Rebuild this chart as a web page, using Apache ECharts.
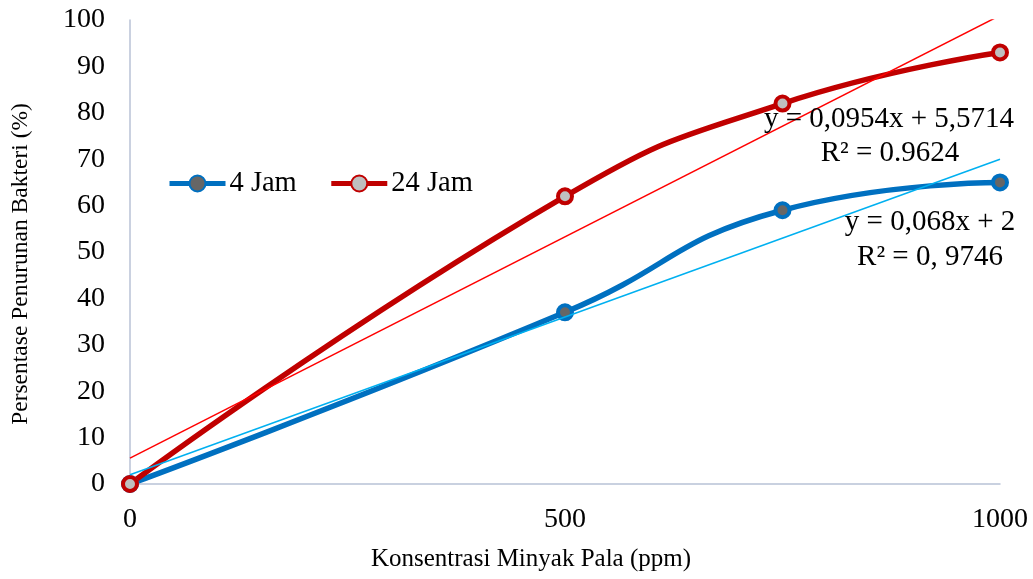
<!DOCTYPE html>
<html>
<head>
<meta charset="utf-8">
<script src="https://cdn.jsdelivr.net/npm/echarts@6/dist/echarts.min.js"></script>
<style>html,body{margin:0;padding:0;background:#fff}#c{width:1033px;height:579px}</style>
</head>
<body>
<div id="c"></div>
<script>
const concentrations = [0, 500, 750, 1000];
const jam4 = [0, 37, 59, 65];
const jam24 = [0, 62, 82, 93];
const trend4 = [[0, 2], [1000, 70]];
const trend24 = [[0, 5.5714], [1000, 100.97]];
const xTicks = [0, 500, 1000];
const eq24 = ['y = 0,0954x + 5,5714', 'R² = 0.9624'];
const eq4 = ['y = 0,068x + 2', 'R² = 0, 9746'];

const FONT = 'Liberation Serif';
const chart = echarts.init(document.getElementById('c'));
const pair = (xs, ys) => xs.map((x, i) => [x, ys[i]]);
const txt = (s, x, y) => ({ type: 'text', z: 10, x: x, y: y,
  style: { text: s, font: '29px ' + FONT, fill: '#000', textAlign: 'center', textVerticalAlign: 'middle' } });

chart.setOption({
  animation: false,
  textStyle: { fontFamily: FONT, color: '#000' },
  grid: { left: 130, right: 33, top: 20, bottom: 95, outerBoundsMode: 'none', containLabel: false },
  legend: {
    data: ['4 Jam', '24 Jam'],
    left: 162, top: 164,
    itemWidth: 56, itemHeight: 20, itemGap: 32,
    lineStyle: { width: 5 },
    textStyle: { fontFamily: FONT, fontSize: 28.5, color: '#000', padding: [0, 0, 0, -1] }
  },
  xAxis: {
    type: 'value', min: 0, max: 1000, interval: 500,
    name: 'Konsentrasi Minyak Pala (ppm)', nameLocation: 'middle', nameGap: 63,
    nameTextStyle: { fontFamily: FONT, fontSize: 25, color: '#000', padding: [0, 68, 0, 0] },
    axisLine: { show: true, lineStyle: { color: '#B8C2D6', width: 1.5 } },
    axisTick: { show: false },
    splitLine: { show: false },
    axisLabel: { fontFamily: FONT, fontSize: 28, color: '#000', margin: 22,
      formatter: v => xTicks.includes(v) ? String(v) : '' }
  },
  yAxis: {
    type: 'value', min: 0, max: 100, interval: 10,
    name: 'Persentase Penurunan Bakteri (%)', nameLocation: 'middle', nameGap: 97, nameRotate: 90,
    nameTextStyle: { fontFamily: FONT, fontSize: 23.5, color: '#000', padding: [0, 24, 0, 0] },
    axisLine: { show: true, lineStyle: { color: '#B8C2D6', width: 1.5 } },
    axisTick: { show: false },
    splitLine: { show: false },
    axisLabel: { fontFamily: FONT, fontSize: 28, color: '#000', margin: 25 }
  },
  series: [
    {
      name: '4 Jam', type: 'line', data: pair(concentrations, jam4), smooth: 0.5,
      symbol: 'circle', symbolSize: 14, z: 3,
      lineStyle: { color: '#0070C0', width: 5.5 },
      itemStyle: { color: '#666666', borderColor: '#0070C0', borderWidth: 4 }
    },
    {
      name: '24 Jam', type: 'line', data: pair(concentrations, jam24), smooth: 0.5,
      symbol: 'circle', symbolSize: 14, z: 3,
      lineStyle: { color: '#C00000', width: 5.5 },
      itemStyle: { color: '#BFBFBF', borderColor: '#C00000', borderWidth: 4 }
    },
    {
      name: 'trend4', type: 'line', data: trend4, symbol: 'none', z: 4, silent: true,
      lineStyle: { color: '#00B0F0', width: 1.5 }
    },
    {
      name: 'trend24', type: 'line', data: trend24, symbol: 'none', z: 4, silent: true, clip: true,
      lineStyle: { color: '#FF0000', width: 1.5 }
    }
  ],
  graphic: [
    txt(eq24[0], 889, 119),
    txt(eq24[1], 890, 153),
    txt(eq4[0], 930, 222),
    txt(eq4[1], 930, 257)
  ]
});
</script>
</body>
</html>
